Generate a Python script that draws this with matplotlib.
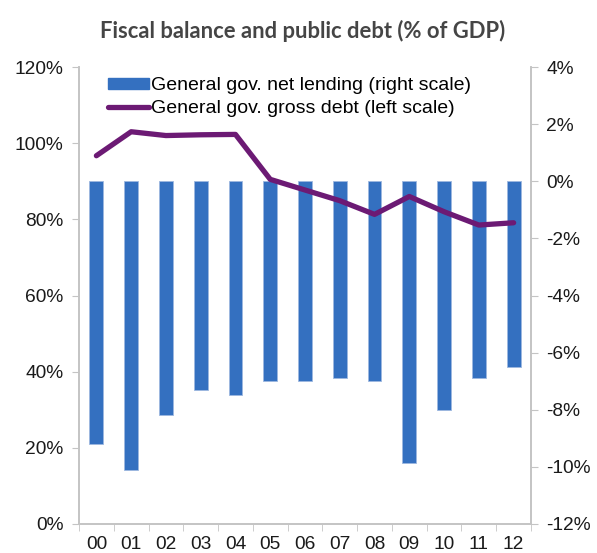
import matplotlib
matplotlib.use("Agg")
import matplotlib.pyplot as plt
from matplotlib.ticker import FixedLocator, FuncFormatter
from matplotlib.patches import Patch
from matplotlib.lines import Line2D

years = ["00", "01", "02", "03", "04", "05", "06", "07", "08", "09", "10", "11", "12"]
net_lending = [-9.2, -10.1, -8.2, -7.3, -7.5, -7.0, -7.0, -6.9, -7.0, -9.85, -8.0, -6.9, -6.5]
gross_debt = [96.7, 103.0, 102.0, 102.2, 102.3, 90.5, 87.7, 84.9, 81.3, 86.0, 82.0, 78.5, 79.1]

title = "Fiscal balance and public debt (% of GDP)"
bar_label = "General gov. net lending (right scale)"
line_label = "General gov. gross debt (left scale)"

plt.rcParams['font.family'] = ['Liberation Sans', 'DejaVu Sans']

fig = plt.figure(figsize=(5.97, 5.53), dpi=100)
axL = fig.add_axes([79/597, 1-524/553, (531-79)/597, (524-67)/553])
axR = axL.twinx()

x = list(range(len(years)))
bar_color = "#3470C0"
line_color = "#6C1A74"
spine_color = "#C4C4C4"
text_color = "#1A1A1A"
fs = 13.8

axR.bar(x, net_lending, width=0.4, color=bar_color, edgecolor="#9DB8E0", linewidth=0.6, zorder=2)
axL.plot(x, gross_debt, color=line_color, linewidth=3.8, solid_capstyle="round", solid_joinstyle="round", zorder=3)

# line on top of bars
axL.set_zorder(axR.get_zorder() + 1)
axL.patch.set_visible(False)

axL.set_xlim(-0.5, len(years) - 0.5)
axL.set_ylim(0, 120)
axR.set_ylim(-12, 4)
axL.set_yticks(range(0, 121, 20))
axR.set_yticks(range(-12, 5, 2))
axL.yaxis.set_major_formatter(FuncFormatter(lambda v, p: f"{v:.0f}%"))
axR.yaxis.set_major_formatter(FuncFormatter(lambda v, p: f"{v:.0f}%"))

axL.set_xticks(x)
axL.set_xticklabels(years)
axL.xaxis.set_minor_locator(FixedLocator([i - 0.5 for i in range(len(years) + 1)]))
axL.tick_params(axis="x", which="major", length=0, pad=8.5, labelsize=fs, colors=text_color)
axL.tick_params(axis="x", which="minor", length=5, color=spine_color, direction="out")
axL.tick_params(axis="y", length=5, color=spine_color, labelsize=fs, labelcolor=text_color, pad=6)
axR.tick_params(axis="y", length=5, color=spine_color, labelsize=fs, labelcolor=text_color, pad=6)

for ax in (axL, axR):
    ax.spines["top"].set_visible(False)
    for s in ("left", "right", "bottom"):
        ax.spines[s].set_color(spine_color)
        ax.spines[s].set_linewidth(1.2)

handles = [Patch(facecolor=bar_color, edgecolor=bar_color),
           Line2D([0], [0], color=line_color, linewidth=3.8, solid_capstyle="round")]
leg = axL.legend(handles, [bar_label, line_label], loc="upper left",
                 bbox_to_anchor=((108 - 79) / 452, 1 - (77 - 67) / 457),
                 frameon=False, fontsize=14, handlelength=2.1, handleheight=0.5,
                 handletextpad=0.12, labelspacing=0.32, borderaxespad=0.0, borderpad=0.0)

fig.text(0.507, 1-31/553, title, ha="center", va="center", fontsize=15.8,
         fontweight="bold", color="#454545", family=["Lato", "DejaVu Sans"])

fig.savefig("out.png", dpi=100)
